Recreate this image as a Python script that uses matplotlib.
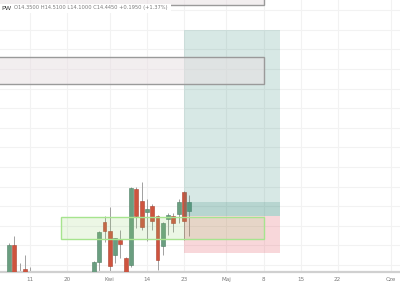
import matplotlib
matplotlib.use("Agg")
import matplotlib.pyplot as plt
from matplotlib.patches import Rectangle

# ---- data (bar index: 0 = 23 Apr, one unit per trading day) ----
bar_idx = [-33, -32, -31, -30, -29,
           -17, -16, -15, -14, -13, -12, -11, -10, -9, -8,
           -7, -6, -5, -4, -3, -2, -1, 0, 1]
opens  = [13.55, 14.00, 13.60, 13.76, 13.60,
          13.60, 13.83, 14.24, 14.15, 13.90, 14.05, 13.87, 13.80, 14.58, 14.45,
          14.34, 14.40, 14.30, 13.99, 14.27, 14.30, 14.32, 14.54, 14.35]
highs  = [14.02, 14.10, 13.82, 13.90, 13.78,
          13.84, 14.15, 14.30, 14.39, 14.08, 14.16, 13.88, 14.60, 14.60, 14.65,
          14.47, 14.42, 14.31, 14.24, 14.33, 14.33, 14.47, 14.56, 14.51]
lows   = [13.50, 13.40, 13.10, 13.50, 13.00,
          13.50, 13.74, 14.03, 13.72, 13.82, 13.87, 13.65, 13.78, 14.18, 14.16,
          14.05, 14.16, 13.75, 13.90, 14.11, 14.14, 14.23, 14.06, 14.10]
closes = [14.00, 13.50, 13.20, 13.62, 13.10,
          13.83, 14.14, 14.15, 13.79, 14.08, 14.01, 13.70, 14.59, 14.30, 14.19,
          14.37, 14.25, 13.85, 14.23, 14.31, 14.23, 14.445, 14.25, 14.445]

tick_labels = ["11", "20", "Kwi", "14", "23", "Maj", "8", "15", "22", "Cze"]
tick_at     = [-29, -22, -14, -7, 0, 8, 15, 22, 29, 39]

header_symbol = "PW"
header_values = "O14.3500 H14.5100 L14.1000 C14.4450 +0.1950 (+1.37%)"

# drawings (x in bar units, y in price)
gray_rects = [(-40, 15.1, 16.45, 16.80), (-40, 15.1, 15.645, 15.92)]
green_rect = (-23.2, 15.1, 14.07, 14.29)
pos_x = (0, 18.1)
pos_entry, pos_target, pos_stop = 14.30, 16.20, 13.925
last_close = 14.445

# ---- figure ----
fig = plt.figure(figsize=(4, 2.84), dpi=100)
ax = fig.add_axes([0, 12 / 284, 1, 272 / 284])
ax.set_xlim(-184 / 5.3, 216 / 5.3)
ax.set_ylim((1617.4 - 272) / 98, 1617.4 / 98)

# grid
for t in tick_at:
    ax.axvline(t, color="#f2f2f2", lw=0.8, zorder=0)
p = 13.8
while p < 16.6:
    ax.axhline(p, color="#f2f2f2", lw=0.8, zorder=0)
    p += 0.2

# candles
w = 0.75
for x, o, h, l, c in zip(bar_idx, opens, highs, lows, closes):
    up = c >= o
    fc = "#6a9e80" if up else "#cf533e"
    ec = "#4e8064" if up else "#a9402f"
    ax.vlines(x, l, h, color="#a0a0a0", lw=0.7, zorder=2)
    ax.add_patch(Rectangle((x - w / 2, min(o, c)), w, max(abs(c - o), 0.005),
                           facecolor=fc, edgecolor=ec, lw=0.4, zorder=3))

# long position tool
x0, x1 = pos_x
ax.add_patch(Rectangle((x0, pos_entry), x1 - x0, pos_target - pos_entry,
                       facecolor="#378c7d", alpha=0.2, lw=0, zorder=4))
ax.add_patch(Rectangle((x0, pos_entry), x1 - x0, last_close - pos_entry,
                       facecolor="#378c7d", alpha=0.2, lw=0, zorder=4))
ax.add_patch(Rectangle((x0, pos_stop), x1 - x0, pos_entry - pos_stop,
                       facecolor="#e0394a", alpha=0.2, lw=0, zorder=4))

# gray rectangles
for ra, rb, ya, yb in gray_rects:
    ax.add_patch(Rectangle((ra, ya), rb - ra, yb - ya, facecolor="#e8dfe2",
                           alpha=0.53, lw=0, zorder=5))
    ax.add_patch(Rectangle((ra, ya), rb - ra, yb - ya, facecolor="none",
                           edgecolor="#9a9a9a", lw=1.0, zorder=5))

# green rectangle
gx0, gx1, gy0, gy1 = green_rect
ax.add_patch(Rectangle((gx0, gy0), gx1 - gx0, gy1 - gy0, facecolor="#8fd16a",
                       alpha=0.17, lw=0, zorder=5))
ax.add_patch(Rectangle((gx0, gy0), gx1 - gx0, gy1 - gy0, facecolor="none",
                       edgecolor="#a6e48e", lw=1.0, zorder=5))

# header legend
ax.add_patch(Rectangle((0, (272 - 13) / 272), 171 / 400, 9 / 272,
                       transform=ax.transAxes, facecolor="white", lw=0, zorder=6))
ax.text(1 / 400, (272 - 8) / 272, header_symbol, transform=ax.transAxes,
        fontsize=4.6, color="#3a3a3a", va="center", ha="left", zorder=7)
ax.text(14 / 400, (272 - 8) / 272, header_values, transform=ax.transAxes,
        fontsize=3.7, color="#7a7a7a", va="center", ha="left", zorder=7)

# axes styling
for s in ["top", "left", "right"]:
    ax.spines[s].set_visible(False)
ax.spines["bottom"].set_color("#d0d0d0")
ax.spines["bottom"].set_linewidth(1.6)
ax.set_yticks([])
ax.set_xticks(tick_at)
ax.set_xticklabels(tick_labels)
ax.tick_params(axis="x", length=0, labelsize=4.1, labelcolor="#7a7a7a", pad=3.3)

fig.savefig("out.png", dpi=100)
